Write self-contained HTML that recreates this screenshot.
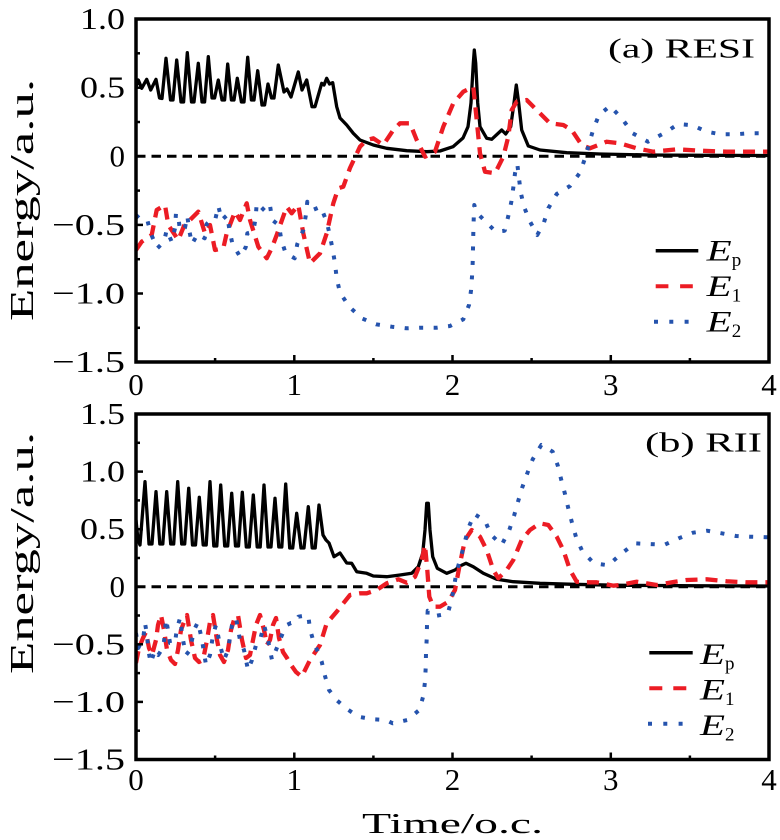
<!DOCTYPE html>
<html><head><meta charset="utf-8"><style>
html,body{margin:0;padding:0;background:#fff;}
svg{display:block;}
text{font-family:"Liberation Serif",serif;fill:#000;}
</style></head><body>
<svg width="780" height="840" viewBox="0 0 780 840" xmlns="http://www.w3.org/2000/svg">
<defs>
<clipPath id="c1"><rect x="136" y="19" width="633" height="343"/></clipPath>
<clipPath id="c2"><rect x="136" y="414" width="633" height="345.5"/></clipPath>
</defs>

<!-- ============ TOP PANEL ============ -->
<g clip-path="url(#c1)" fill="none" stroke-linejoin="round">
<line x1="136" y1="156.3" x2="769" y2="156.3" stroke="#000" stroke-width="3" stroke-dasharray="9.5 6"/>
<polyline stroke="#000" stroke-width="3.3" points="136,86.7 138.3,80 141.7,88.3 146.7,79.3 150.7,90 156,79.3 159.5,98 162,98.5 166,58.3 170.5,100 173,100 176.7,60 181,102 183.6,102 187.3,52.7 191.5,102 194,102 198.3,63.3 202,102 204.6,102 208.3,56.7 212,98 214.6,98 218.3,80 222,100 224.6,100 227.7,64 231.4,100 234,100 237.3,78.3 241.4,102 244,102 247.7,57.3 251.4,100 254,100 257.7,70.7 262,105 264.6,105 268,84 271.5,98 274,98 278.3,65 284,92 287,89 291,97 298.3,72 302,90 306.7,80 312,106.7 315,106.7 321.7,83.3 324,85 326.7,78.3 329.5,84 332.7,82.7 336.7,106.7 340,118 346.7,125 353.3,133.3 360,140 373.3,145 386.7,148.3 406.7,150.7 426.7,151.7 440,151 453,146.7 463,138 468,126.7 471,103 473.3,63.3 474.3,50 475.7,63 477.7,103 480,126.7 486.7,138.3 491.7,139.3 501.7,130 505.7,134 510.7,126.7 514,103 516.3,85 518.7,103 521.7,130 528.3,146 540,150 566.7,152.7 600,154 650,155 700,155.3 769,155.5"/>
<polyline stroke="#ec1c24" stroke-width="4.3" stroke-dasharray="12 8" points="136,250 141.7,241.7 151.7,235 156.7,210 165,205 168.3,225 178.3,240 185,223.3 190,220 198.3,211.7 205,233.3 210,225 215,250 223.3,248.3 226.7,233.3 235,211.7 240,220 246.7,203.3 250,220 258.3,246.7 266.7,258.3 271.7,248.3 276.7,235 286.7,206.7 291.7,213.3 298.3,205 303.3,233.3 310,263.3 320,253.3 326.7,233.3 333.3,203.3 338.3,188.3 343.3,186.7 350,168 360,146.7 366.7,140 373.3,138.3 383.3,145 393.3,130 400,123.3 410,123.3 416.7,140 425,156.7 435,151.7 443.3,126.7 453.3,103.3 463.3,91.7 473.3,86.7 476.7,120 480,153.3 485,171.7 495,173.3 503.3,156.7 508.3,136.7 511.7,110 516.7,101.7 526.7,100 536.7,110 550,123.3 563.3,125 571.7,130 581.7,145 590,148.3 606.7,141.7 620,143.3 636.7,148.3 653.3,151.7 676.7,149.3 700,150.7 726.7,151.7 769,151.7"/>
<polyline stroke="#2553ad" stroke-width="4" stroke-dasharray="4 10.5" points="136,215 140,219 147.3,220 150.7,233.3 157.3,248.3 164,241.7 166.7,230 171.7,241.7 175,228.3 176,213 178.3,216.7 180,230.7 185,227.7 187.3,216 189.3,230.7 192,244 197.7,234 204.7,238.3 206.7,224 210,220.7 215,220.7 218.3,206 221.7,220 227.3,215 229.3,229.3 232.3,243.3 240,256.7 245.7,247.3 247.3,233.3 253.3,231.7 255.7,217.3 256.7,203.3 260,206 265.7,211.7 270,205.7 272.3,220 279,225.3 281.3,240 285.7,253.3 294.7,258.3 297.3,244 303.3,230 305.7,216 307.3,201.7 312.7,210 320.7,206.7 326.7,221.7 330,236 332.7,250 335,263.3 336.7,278.3 340,292.7 349.3,306.7 361.7,318.3 376,324.3 391.7,326.7 406.7,328.3 421.7,327.7 436.7,327.7 450,326 463.3,319.3 469,305 471,290.7 472,276.7 472.7,262.3 473,248.3 473.3,233.3 473.7,219.3 474.3,205 476.7,212.7 485.7,221.7 495.7,231.7 504.7,230.7 508.3,216 511.3,202 513.3,187.7 515,173.3 517.3,164 519,178.3 520.7,192.3 524,206.7 529.7,221 537.3,235 544,222.3 548.3,208.3 556.7,194 570,186 580,172.7 585,158.3 589,144 593.3,129.3 599,115 610,106 622.3,119 632.7,133.3 648,141.7 664,133.3 678.3,124 692.3,125.3 706.7,131.7 720.7,134.3 735,134.3 749.3,133.3 769,133.3"/>
</g>
<!-- frame & ticks top -->
<rect x="136" y="19" width="633" height="343" fill="none" stroke="#000" stroke-width="3.5"/>
<g stroke="#000" stroke-width="2.5">
<line x1="136" y1="53.3" x2="140" y2="53.3"/><line x1="136" y1="87.7" x2="143" y2="87.7"/><line x1="136" y1="122" x2="140" y2="122"/><line x1="136" y1="190.6" x2="140" y2="190.6"/><line x1="136" y1="224.9" x2="143" y2="224.9"/><line x1="136" y1="259.2" x2="140" y2="259.2"/><line x1="136" y1="293.5" x2="143" y2="293.5"/><line x1="136" y1="327.8" x2="140" y2="327.8"/>
<line x1="215.1" y1="362" x2="215.1" y2="358"/><line x1="294.3" y1="362" x2="294.3" y2="355"/><line x1="373.4" y1="362" x2="373.4" y2="358"/><line x1="452.5" y1="362" x2="452.5" y2="355"/><line x1="531.6" y1="362" x2="531.6" y2="358"/><line x1="610.8" y1="362" x2="610.8" y2="355"/><line x1="689.9" y1="362" x2="689.9" y2="358"/>
</g>
<g font-size="31" text-anchor="end">
<text x="125" y="29" textLength="45" lengthAdjust="spacingAndGlyphs">1.0</text>
<text x="125" y="97.7" textLength="45" lengthAdjust="spacingAndGlyphs">0.5</text>
<text x="125" y="166.3">0</text>
<text x="125" y="234.9" textLength="73" lengthAdjust="spacingAndGlyphs">−0.5</text>
<text x="125" y="303.5" textLength="73" lengthAdjust="spacingAndGlyphs">−1.0</text>
<text x="125" y="372" textLength="73" lengthAdjust="spacingAndGlyphs">−1.5</text>
</g>
<g font-size="31" text-anchor="middle">
<text x="136" y="395">0</text><text x="294.3" y="395">1</text><text x="452.5" y="395">2</text><text x="610.8" y="395">3</text><text x="769" y="395">4</text>
</g>
<text x="608" y="57.3" font-size="27" textLength="147" lengthAdjust="spacingAndGlyphs">(a) RESI</text>
<text transform="translate(33,200) rotate(-90)" font-size="34" text-anchor="middle" textLength="242" lengthAdjust="spacingAndGlyphs">Energy/a.u.</text>
<!-- legend top -->
<line x1="655.7" y1="250.7" x2="698.3" y2="250.7" stroke="#000" stroke-width="3.5"/>
<line x1="655.7" y1="286.2" x2="693" y2="286.2" stroke="#ec1c24" stroke-width="4" stroke-dasharray="12.7 11.7"/>
<line x1="654" y1="321.7" x2="690" y2="321.7" stroke="#2553ad" stroke-width="4" stroke-dasharray="4 11.3"/>
<text x="706.7" y="260.7" font-size="30" font-style="italic" textLength="25" lengthAdjust="spacingAndGlyphs">E</text><text x="731.7" y="266" font-size="19">p</text>
<text x="706.7" y="296.2" font-size="30" font-style="italic" textLength="25" lengthAdjust="spacingAndGlyphs">E</text><text x="731.7" y="301.5" font-size="19">1</text>
<text x="706.7" y="331.7" font-size="30" font-style="italic" textLength="25" lengthAdjust="spacingAndGlyphs">E</text><text x="731.7" y="337" font-size="19">2</text>

<!-- ============ BOTTOM PANEL ============ -->
<g clip-path="url(#c2)" fill="none" stroke-linejoin="round">
<line x1="136" y1="586.75" x2="769" y2="586.75" stroke="#000" stroke-width="3" stroke-dasharray="9.5 6"/>
<polyline stroke="#000" stroke-width="3.3" points="136,520 138,540 140,545 145,481.7 149,544 152,544 156,491.7 159.8,544 162.8,544 166.7,491.7 170.7,544 173.7,544 177.7,481.7 181.7,544 184.7,544 188.7,488.3 192.5,545 195.5,545 199.3,497.3 203.2,545 206.2,545 210,481.7 213.8,546 216.8,546 220.7,485 224.7,546 227.7,546 231.7,493.3 235.5,546 238.5,546 242.3,492.3 246.3,547 249.3,547 253.3,495 257.2,547 260.2,547 264,485 268,547 271,547 275,498.3 278.8,547 281.8,547 285.7,484 289.7,548 292.7,548 296.7,513.3 301,548 304,548 308.3,506.7 312.2,548 315.2,548 319,505 323,535 326,540 329,543 334,556.7 340,553 346.7,563 351.7,563.3 356.7,571.7 366.7,573.3 373.3,576 386.7,576.7 400,575 411.7,573.3 418.3,566.7 422.7,553.3 425,530 426.7,503.3 428.3,503.3 430,530 432.7,556.7 437.3,568.3 446.7,573.3 455,570 460,566 466,563.3 473.3,566.7 483.3,573.3 496.7,579.3 513.3,581.7 540,583.3 573.3,584.3 620,585.3 700,585.8 769,586"/>
<polyline stroke="#ec1c24" stroke-width="4.3" stroke-dasharray="12 8" points="136,663 139,648 143,638 146,632 149,648 152,655 156,640 158,625 161,615 164,630 167,650 171,660 175,664 178,650 181,630 184,622 187,615 191,640 195,658 199,662 203,660 207,640 210,622 213,615 217,640 220,655 224,662 228,650 231,630 234,620 238,615 242,640 246,658 250,655 253,640 256,625 260,615 264,630 267,645 270,640 273,625 276,618 279,638 283,652 287,658 291,665 296,672 301.7,676.7 310,660 320,645 326.7,623.3 336.7,611.7 343.3,603.3 350,595 360,593.3 366.7,593.3 376.7,590 386.7,583.3 398.3,579.3 406.7,582.7 415,576.7 421.7,560 425,545 427.3,570 429.3,596.7 433.3,606.7 440,606.7 448.3,601.7 455,590 460,563.3 465,540 471.7,530 480,536.7 486.7,550 493.3,570 498.3,578.3 506.7,570 513.3,560 521.7,540 530,530 540,523.3 548.3,525 556.7,536.7 563.3,550 570,570 576.7,581.7 586.7,582.3 596.7,582.3 613.3,585.7 620,585 636.7,581.7 656.7,585 675,581.7 686.7,580 706.7,579.3 726.7,581.3 746.7,582.3 769,582.3"/>
<polyline stroke="#2553ad" stroke-width="4" stroke-dasharray="4 10.5" points="136,633 138.3,648 143.3,638 145,623 147,635 148.3,650 150.7,663 155,650 158.3,655 163.3,647 165,633 166,619 168,630 170,643 175,643 176.7,630 180,618 183,640 186,655 190,650 194,630 198,622 202,640 206,665 210,655 213,635 216,625 220,645 224,660 228,650 232,625 236,618 240,640 244,650 248,670 252,660 256,645 260,640 264,625 268,640 272,660 276,650 280,640 284,630 286.7,625 291,623 295,622.7 298.3,616.7 303,616 308.3,615.7 310,629.3 314,643.3 318,652 321.7,661.7 325,676 329,690 337.3,700.7 346,708.3 358.3,716.7 372.7,719.3 386,720 392.7,723.3 407.3,720 419.3,710 423.3,696 425,681.7 425.7,667.7 426,653.3 426.7,639 427,625 427.7,610.7 436.7,615.7 447.7,613.7 451.7,599.3 454.3,585 456.7,571 461,556.7 464.7,542.3 468.3,528.3 474.3,514 485,520.7 491,534.7 501.7,545 509.3,530 514,516 518,501.7 522.3,487.3 527.3,473.3 532.7,459.3 541.3,445 552.7,451.7 557.7,465.3 561.3,480 565,494 568.3,508.3 572,522.7 576,537 582.3,551.3 594,563.3 608.3,565.3 621,554 634.7,543.3 649.3,544 664.7,544.7 678.7,538.3 693,532.7 707,530.7 721.7,533.3 736,536 750,536.7 769,537.3"/>
</g>
<rect x="136" y="414" width="633" height="345.5" fill="none" stroke="#000" stroke-width="3.5"/>
<g stroke="#000" stroke-width="2.5">
<line x1="136" y1="442.8" x2="140" y2="442.8"/><line x1="136" y1="471.6" x2="143" y2="471.6"/><line x1="136" y1="500.4" x2="140" y2="500.4"/><line x1="136" y1="529.2" x2="143" y2="529.2"/><line x1="136" y1="558" x2="140" y2="558"/><line x1="136" y1="615.5" x2="140" y2="615.5"/><line x1="136" y1="644.3" x2="143" y2="644.3"/><line x1="136" y1="673.1" x2="140" y2="673.1"/><line x1="136" y1="701.9" x2="143" y2="701.9"/><line x1="136" y1="730.7" x2="140" y2="730.7"/>
<line x1="215.1" y1="759.5" x2="215.1" y2="755.5"/><line x1="294.3" y1="759.5" x2="294.3" y2="752.5"/><line x1="373.4" y1="759.5" x2="373.4" y2="755.5"/><line x1="452.5" y1="759.5" x2="452.5" y2="752.5"/><line x1="531.6" y1="759.5" x2="531.6" y2="755.5"/><line x1="610.8" y1="759.5" x2="610.8" y2="752.5"/><line x1="689.9" y1="759.5" x2="689.9" y2="755.5"/>
</g>
<g font-size="31" text-anchor="end">
<text x="125" y="424" textLength="45" lengthAdjust="spacingAndGlyphs">1.5</text>
<text x="125" y="481.6" textLength="45" lengthAdjust="spacingAndGlyphs">1.0</text>
<text x="125" y="539.2" textLength="45" lengthAdjust="spacingAndGlyphs">0.5</text>
<text x="125" y="596.75">0</text>
<text x="125" y="654.3" textLength="73" lengthAdjust="spacingAndGlyphs">−0.5</text>
<text x="125" y="711.9" textLength="73" lengthAdjust="spacingAndGlyphs">−1.0</text>
<text x="125" y="769.5" textLength="73" lengthAdjust="spacingAndGlyphs">−1.5</text>
</g>
<g font-size="31" text-anchor="middle">
<text x="136" y="790">0</text><text x="294.3" y="790">1</text><text x="452.5" y="790">2</text><text x="610.8" y="790">3</text><text x="769" y="790">4</text>
</g>
<text x="645" y="451.7" font-size="27" textLength="117" lengthAdjust="spacingAndGlyphs">(b) RII</text>
<text transform="translate(33,553) rotate(-90)" font-size="34" text-anchor="middle" textLength="242" lengthAdjust="spacingAndGlyphs">Energy/a.u.</text>
<text x="452.5" y="833" font-size="28" text-anchor="middle" textLength="181" lengthAdjust="spacingAndGlyphs">Time/o.c.</text>
<!-- legend bottom -->
<line x1="649.3" y1="652.7" x2="692.7" y2="652.7" stroke="#000" stroke-width="3.5"/>
<line x1="649.3" y1="688.2" x2="687" y2="688.2" stroke="#ec1c24" stroke-width="4" stroke-dasharray="13 11"/>
<line x1="648" y1="723.7" x2="684" y2="723.7" stroke="#2553ad" stroke-width="4" stroke-dasharray="4 11.3"/>
<text x="700" y="664" font-size="30" font-style="italic" textLength="25" lengthAdjust="spacingAndGlyphs">E</text><text x="725" y="669.5" font-size="19">p</text>
<text x="700" y="699.5" font-size="30" font-style="italic" textLength="25" lengthAdjust="spacingAndGlyphs">E</text><text x="725" y="705" font-size="19">1</text>
<text x="700" y="735" font-size="30" font-style="italic" textLength="25" lengthAdjust="spacingAndGlyphs">E</text><text x="725" y="740.5" font-size="19">2</text>
</svg>
</body></html>
